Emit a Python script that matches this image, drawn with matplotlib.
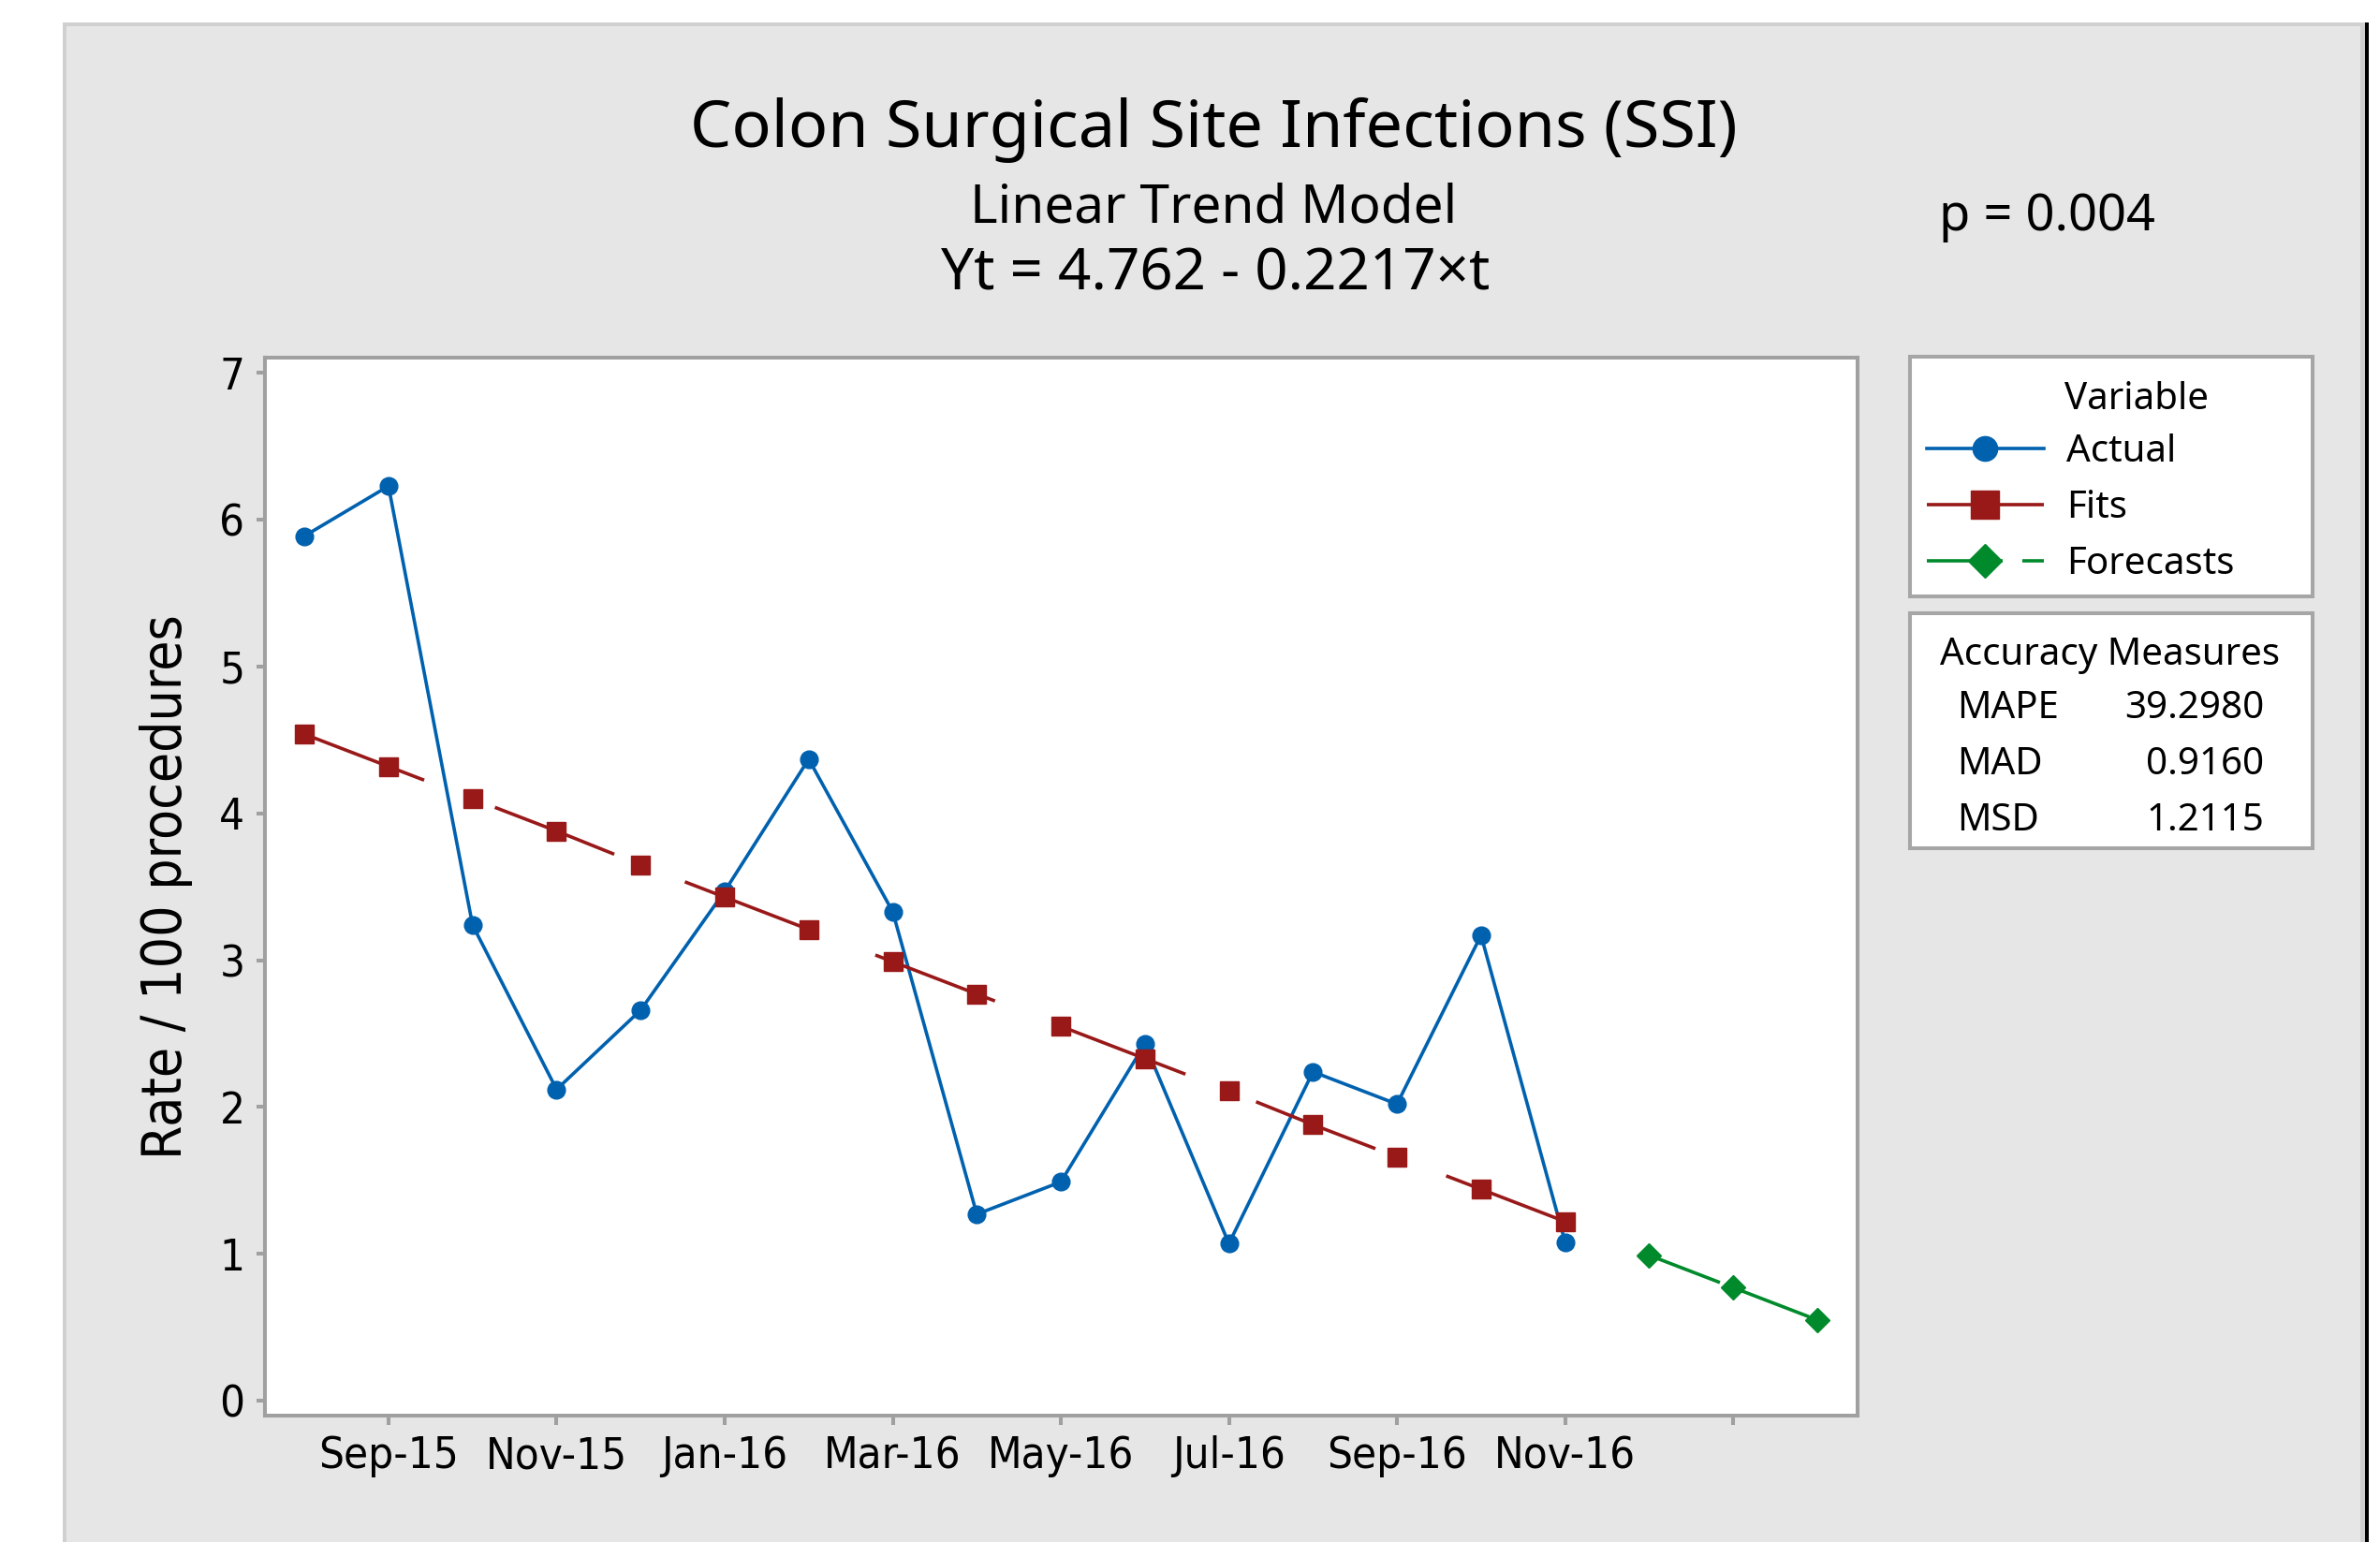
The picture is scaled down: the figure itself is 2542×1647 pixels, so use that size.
import matplotlib
matplotlib.use("Agg")  # headless
import matplotlib.pyplot as plt
from matplotlib.patches import Rectangle

BLUE = "#0061AF"
RED = "#991919"
GREEN = "#008A2B"
FRAME = "#A0A0A0"
PANEL = "#E6E6E6"
TXT = "Noto Sans"

plt.rcParams["lines.scale_dashes"] = False

# period index, Aug-15 = 1
t_actual = list(range(1, 17))
actual = [5.89, 6.23, 3.24, 2.12, 2.66, 3.47, 4.37, 3.33,
          1.27, 1.49, 2.43, 1.07, 2.24, 2.02, 3.17, 1.08]
fits = [4.54, 4.32, 4.10, 3.88, 3.65, 3.43, 3.21, 2.99,
        2.77, 2.55, 2.33, 2.11, 1.88, 1.66, 1.44, 1.22]
t_fc = [17, 18, 19]
forecasts = [0.99, 0.77, 0.55]

tick_pos = [2, 4, 6, 8, 10, 12, 14, 16, 18]
tick_lab = ["Sep-15", "Nov-15", "Jan-16", "Mar-16", "May-16",
            "Jul-16", "Sep-16", "Nov-16", ""]
y_ticks = [0, 1, 2, 3, 4, 5, 6, 7]

acc_names = ["MAPE", "MAD", "MSD"]
acc_vals = ["39.2980", "0.9160", "1.2115"]

W, H = 2542, 1647


def fx(px):
    return px / W


def fy(py):
    return 1 - py / H


fig = plt.figure(figsize=(W / 100, H / 100), dpi=100, facecolor="white")

# grey panel with light border and dark right edge
fig.patches.append(Rectangle((fx(67), 0), fx(2526) - fx(67), fy(24),
                             transform=fig.transFigure, facecolor="#D0D0D0",
                             edgecolor="none", zorder=-3))
fig.patches.append(Rectangle((fx(71), 0), fx(2521) - fx(71), fy(28),
                             transform=fig.transFigure, facecolor=PANEL,
                             edgecolor="none", zorder=-2))
fig.patches.append(Rectangle((fx(2526), 0), fx(2530) - fx(2526), fy(24),
                             transform=fig.transFigure, facecolor="black",
                             edgecolor="none", zorder=-2))

ax = fig.add_axes([fx(283), fy(1512), fx(1984) - fx(283), fy(382) - fy(1512)])
ax.set_zorder(2)
ax.set_facecolor("white")

l_act, = ax.plot(t_actual, actual, color=BLUE, lw=2.6, marker="o", ms=13.5,
                 label="Actual", zorder=3)
l_fit, = ax.plot(t_actual, fits, color=RED, lw=2.6, marker="s", ms=15,
                 linestyle=(0, (98.6, 58.3)), label="Fits", zorder=4)
l_fc, = ax.plot(t_fc, forecasts, color=GREEN, lw=2.6, marker="D", ms=13,
                linestyle=(0, (58.3, 15.1)), label="Forecasts", zorder=5)

ax.set_xlim(0.53, 19.48)
ax.set_ylim(-0.102, 7.105)
ax.set_xticks(tick_pos)
ax.set_xticklabels(tick_lab)
ax.set_yticks(y_ticks)
for s in ax.spines.values():
    s.set_color(FRAME)
    s.set_linewidth(2.9)
ax.tick_params(axis="x", direction="out", color=FRAME, width=2.9, length=7.2, pad=8)
ax.tick_params(axis="y", direction="out", color=FRAME, width=2.9, length=6.5, pad=9)
for lab in ax.get_xticklabels() + ax.get_yticklabels():
    lab.set_fontfamily("DejaVu Sans")
    lab.set_fontstretch("condensed")
    lab.set_fontsize(34)

ax.set_ylabel("Rate / 100 procedures", fontsize=42, family="DejaVu Sans",
              fontstretch="condensed", va="center")
ax.yaxis.set_label_coords(-0.062, 0.5)

# titles
fig.text(fx(1296), fy(157), "Colon Surgical Site Infections (SSI)", ha="center",
         va="baseline", fontsize=50.5, family=TXT)
fig.text(fx(1296), fy(237), "Linear Trend Model", ha="center", va="baseline",
         fontsize=40.8, family=TXT)
fig.text(fx(1298), fy(309), "Yt = 4.762 - 0.2217×t", ha="center", va="baseline",
         fontsize=44.5, family=TXT)
fig.text(fx(2071), fy(246), "p = 0.004", ha="left", va="baseline",
         fontsize=39, family=TXT)

# legend boxes
for top, bot in [(381, 637), (655, 906)]:
    fig.patches.append(Rectangle((fx(2040), fy(bot)), fx(2470) - fx(2040), fy(top) - fy(bot),
                                 transform=fig.transFigure, facecolor="white",
                                 edgecolor="#A6A6A6", linewidth=2.9, zorder=1))

fig.text(fx(2205), fy(437), "Variable", ha="left", va="baseline", fontsize=29, family=TXT)
fig.legend(handles=[l_act, l_fit, l_fc], labels=["Actual", "Fits", "Forecasts"],
           loc="upper left", bbox_to_anchor=(fx(2058), fy(463)), frameon=False,
           borderpad=0, borderaxespad=0, handlelength=3.1, handletextpad=0.6,
           labelspacing=0.5, markerscale=1.4, prop={"family": TXT, "size": 29})

fig.text(fx(2254), fy(710), "Accuracy Measures", ha="center", va="baseline",
         fontsize=29, family=TXT)
for i, (n, v) in enumerate(zip(acc_names, acc_vals)):
    yb = 767 + i * 60
    fig.text(fx(2090), fy(yb), n, ha="left", va="baseline", fontsize=29, family=TXT)
    fig.text(fx(2418), fy(yb), v, ha="right", va="baseline", fontsize=29, family=TXT)

fig.savefig("out.png", dpi=100, facecolor="white")
plt.close(fig)
